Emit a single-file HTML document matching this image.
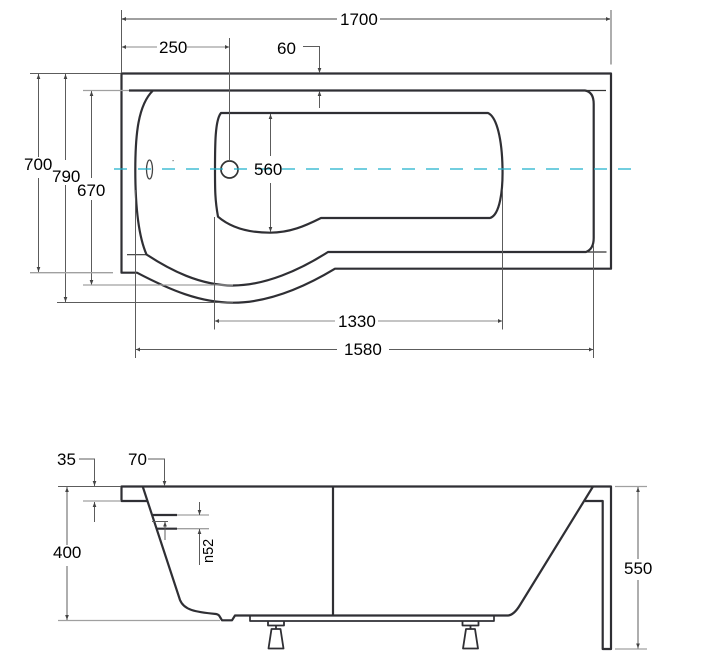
<!DOCTYPE html>
<html><head><meta charset="utf-8"><style>
html,body{margin:0;padding:0;background:#fff}
svg{display:block}
text{font-family:"Liberation Sans",sans-serif;font-size:17px;fill:#000}
.o{fill:none;stroke:#2f2f34;stroke-width:2.2;stroke-linejoin:round}
.d{fill:none;stroke:#5c5c5c;stroke-width:1}
.g{fill:none;stroke:#a0a0a0;stroke-width:1.3}
.a{fill:#444}
</style></head><body>
<svg width="723" height="667" viewBox="0 0 723 667" xmlns="http://www.w3.org/2000/svg">
<defs>
<marker id="e" viewBox="0 0 6 6" refX="6" refY="3" markerWidth="5" markerHeight="5" orient="auto-start-reverse"><path d="M0 .8L6 3L0 5.2z" class="a"/></marker>
</defs>
<!-- top view outline -->
<path class="o" d="M121.5 73.5H611V268.7H335C303 288 267 302.7 233 302.7C200 302.7 170 290 137 272.7H121.5Z"/>
<path class="o" d="M129 90.5H585Q593.7 92 593.7 104V238Q593.7 249 586 252H328C300 270 265 285.5 233 285.5C200 285.5 170 270 146.5 254.5C138 235 135.3 205 135.3 170C135.3 135 138 105 153 90.5"/>
<path d="M585 90.5H606M127 254.7H146.5M586 252H606.5" fill="none" stroke="#333" stroke-width="1.2"/>
<path class="o" d="M221 113H488C497 117 502 140 502.5 168C503 190 500 215 490 218H321C305 226 290 232.7 270 232.7C248 232.7 230 227 218 216.7C215 200 215 190 215 170C215 145 215 120 221 113Z"/>
<circle cx="229.5" cy="169.5" r="8.5" fill="#fff" stroke="#333" stroke-width="1.7"/>
<ellipse cx="149.5" cy="169.5" rx="3" ry="9.5" fill="none" stroke="#444" stroke-width="1.3"/>
<rect x="172.5" y="160" width="1.2" height="1.2" fill="#777"/>
<path d="M114 169H632" fill="none" stroke="#1fb0cc" stroke-width="1.3" stroke-dasharray="13 11"/>
<!-- top dims -->
<path class="g" style="stroke-width:2" d="M122 19H337M380 19H610"/>
<path class="d" d="M121.5 10V73M611 10V64.5"/>
<path class="g" d="M122 47H157M187 47H229"/>
<path class="d" d="M229.5 38V161"/>
<path class="a" d="M122 19l4-2v4zM610 19l-4-2v4zM122 47l4-2v4zM229 47l-4-2v4z"/>
<text x="340" y="25">1700</text><text x="159" y="53">250</text><text x="277" y="54">60</text>
<path class="d" d="M303 46.5H319.5V73" marker-end="url(#e)"/>
<path class="d" d="M319.5 108V91" marker-end="url(#e)"/>
<path class="d" d="M30 73.5H121"/>
<path class="d" d="M38.5 157V74" marker-end="url(#e)"/>
<path class="d" d="M38.5 178V272" marker-end="url(#e)"/>
<path class="d" d="M65.5 160V74" marker-end="url(#e)"/>
<path class="d" d="M65.5 185V302" marker-end="url(#e)"/>
<path class="d" d="M91.5 178V91" marker-end="url(#e)"/>
<path class="d" d="M91.5 200V285" marker-end="url(#e)"/>
<path class="g" d="M30 272.7H113M83 90.5H129M83 285H233"/>
<path class="d" d="M57 302.5H233"/>
<text x="24" y="170">700</text><text x="52" y="182">790</text><text x="77" y="196">670</text>
<path class="d" d="M270.5 156V114" marker-end="url(#e)"/>
<path class="d" d="M270.5 183V232" marker-end="url(#e)"/>
<text x="254" y="175">560</text>
<path class="g" d="M215 321H335M378 321H502"/>
<path class="d" d="M214.5 217V329.5M502.5 190V329.5M135.5 190V358M593.5 245V358"/>
<path class="a" d="M215 321l4-2v4zM502 321l-4-2v4z"/>
<text x="338" y="327">1330</text>
<path class="d" d="M136 349.5H337M389 349.5H593"/>
<path class="a" d="M136 349.5l4-2v4zM593 349.5l-4-2v4z"/>
<text x="344" y="355">1580</text>
<!-- side view -->
<path class="o" d="M148 501H121.5V486.5H611V649H602.7V501H585"/>
<path class="o" d="M142.7 486.5L180 600C184 610 195 612 216 614Q219 614.5 220 617L222 620.3H232L235 615.5H508C513 615 517 610 520 605L593 486.5"/>
<path class="o" d="M333 486.5V615"/>
<path class="o" style="stroke-width:1.7" d="M250 616V621H494V616"/>
<path class="o" d="M153 515H177M157 528.7H177"/>
<path class="g" d="M177 515H209M177 528.7H209"/>
<!-- feet -->
<path class="o" style="stroke-width:1.8" d="M268 621V625.5H284V621M276 625.5V629M271.5 629H280.5L283.5 648.5H268.5Z"/>
<g transform="translate(194.5 0)"><path class="o" style="stroke-width:1.8" d="M268 621V625.5H284V621M276 625.5V629M271.5 629H280.5L283.5 648.5H268.5Z"/></g>
<!-- side dims -->
<path class="d" d="M58 486.5H121"/>
<path class="g" d="M83 501H121M58 620.5H220"/>
<path class="d" d="M79 459H94.5V486" marker-end="url(#e)"/>
<path class="d" d="M94.5 522V502" marker-end="url(#e)"/>
<path class="d" d="M148 459H164.5V486" marker-end="url(#e)"/>
<path class="d" d="M67 545V487" marker-end="url(#e)"/>
<path class="d" d="M67 566V620" marker-end="url(#e)"/>
<text x="57" y="465">35</text><text x="128" y="465">70</text><text x="53" y="558">400</text>
<path class="d" d="M199.5 502V515" marker-end="url(#e)"/>
<path class="d" d="M199.5 565V529" marker-end="url(#e)"/>
<path class="d" d="M165 540V521.5" marker-end="url(#e)"/>
<path class="d" d="M152 521.5H168"/>
<text transform="translate(213 563) rotate(-90)" style="font-size:14.5px">n52</text>
<path class="g" d="M615 486.5H647M615 649H647"/>
<path class="d" d="M638 559V487" marker-end="url(#e)"/>
<path class="d" d="M638 580V648.5" marker-end="url(#e)"/>
<text x="624" y="574">550</text>
</svg>
</body></html>
